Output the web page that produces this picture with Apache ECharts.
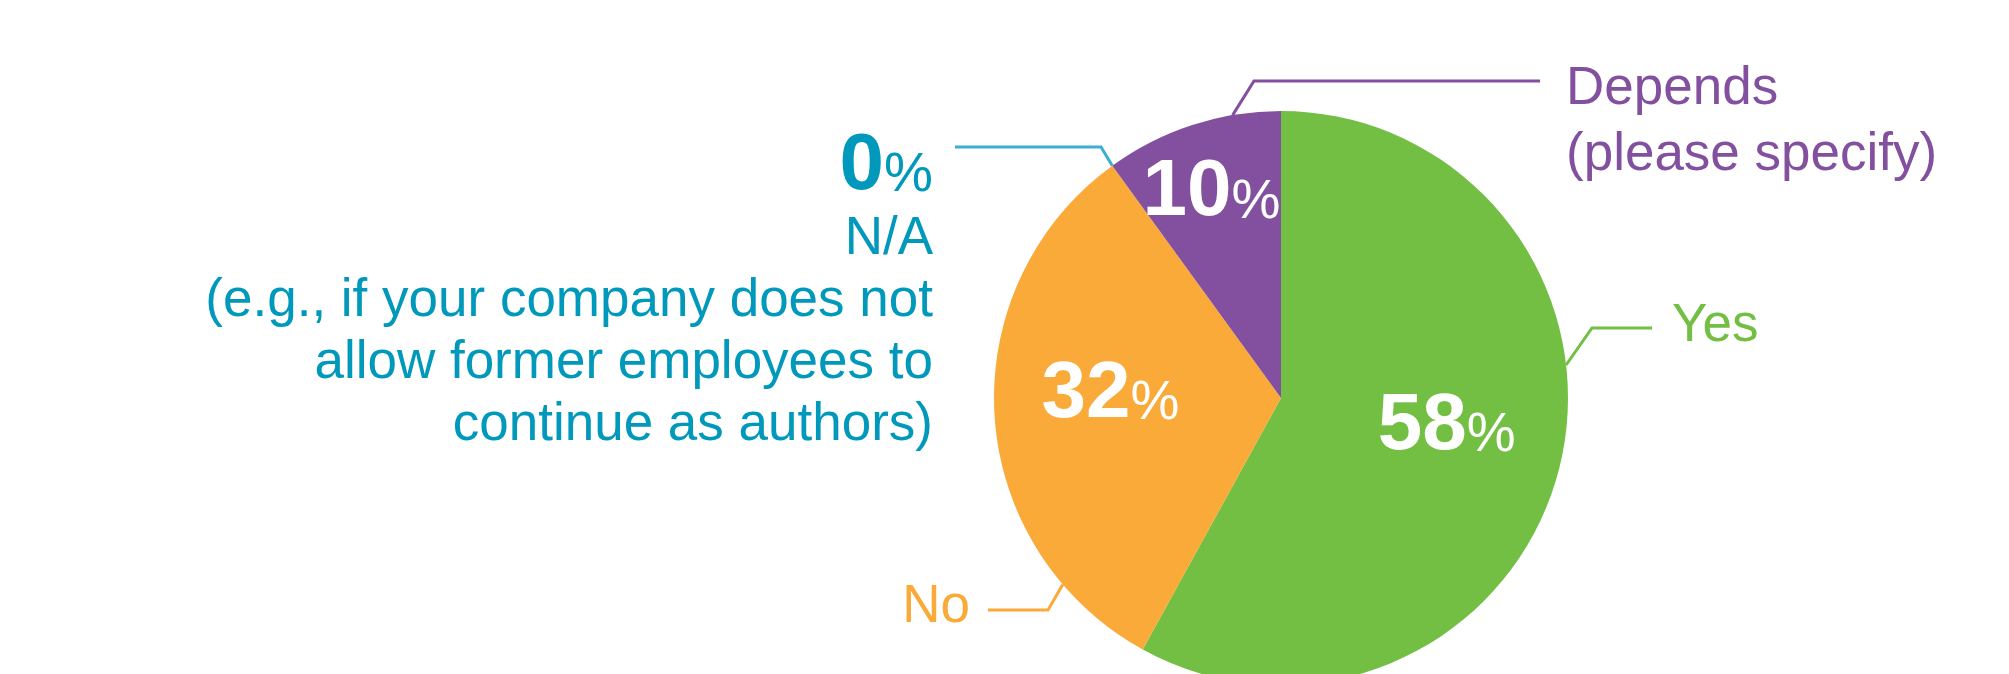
<!DOCTYPE html>
<html>
<head>
<meta charset="utf-8">
<script src="https://cdn.jsdelivr.net/npm/echarts@6/dist/echarts.min.js"></script>
<style>
html,body{margin:0;padding:0;background:#ffffff;}
#c{width:2009px;height:674px;}
</style>
</head>
<body>
<div id="c"></div>
<script>
// ---------------- data ----------------
const categories = ['Yes', 'No', 'N/A', 'Depends'];
const values = [58, 32, 0, 10];
const outerLabelLines = [
  ['Yes'],
  ['No'],
  ['N/A', '(e.g., if your company does not', 'allow former employees to', 'continue as authors)'],
  ['Depends', '(please specify)']
];
const showOuterPercent = [false, false, true, false];
const showInnerPercent = [true, true, false, true];

// ---------------- styles / layout ----------------
const COLORS = ['#72BF44', '#F9AA38', '#0098BB', '#8350A0'];
const LINE_COLORS = ['#72BF44', '#F9AA38', '#3BAFD0', '#8350A0'];
const FONT = '"Liberation Sans", Arial, Helvetica, sans-serif';
const CX = 1281, CY = 398, R = 287;
const LEADER = [
  { angle: 6.6,  elbow: [1592, 328], end: [1652, 328], label: { x: 1672, y: 326, align: 'left',  verticalAlign: 'middle', lh: 63 } },
  { angle: 220.5, elbow: [1048, 610], end: [988, 610],  label: { x: 970,  y: 607, align: 'right', verticalAlign: 'middle', lh: 63 } },
  { angle: null, elbow: [1101, 147], end: [955, 147],  label: { x: 933,  y: 125, align: 'right', verticalAlign: 'top', lh: 62 } },
  { angle: 99.7, elbow: [1254, 81],  end: [1540, 81],  label: { x: 1566, y: 56,  align: 'left',  verticalAlign: 'top', lh: 66 } }
];
const INNER_DY = [-14, -14, 0, 9];

const total = values.reduce((a, b) => a + b, 0);
function midAngle(i) {
  let before = 0;
  for (let k = 0; k < i; k++) before += values[k];
  return 90 - 360 * (before + values[i] / 2) / total;
}

const innerRich = {
  num: { fontSize: 80, fontWeight: 'bold', color: '#ffffff', fontFamily: FONT },
  pct: { fontSize: 55, color: '#ffffff', fontFamily: FONT, padding: [19, 0, 0, 0] }
};

function innerData(filter) {
  return categories.map((c, i) => ({
    name: c,
    value: values[i],
    itemStyle: { color: 'rgba(0,0,0,0)' },
    label: {
      show: showInnerPercent[i] && filter(i),
      formatter: '{num|' + values[i] + '}{pct|%}'
    }
  }));
}

const outerData = categories.map((c, i) => {
  const col = COLORS[i];
  const lines = outerLabelLines[i].map(t => '{txt|' + t + '}');
  if (showOuterPercent[i]) lines.unshift('{num|' + values[i] + '}{pct|%}');
  return {
    name: c,
    value: values[i],
    itemStyle: { color: 'rgba(0,0,0,0)' },
    label: {
      show: true,
      formatter: lines.join('\n'),
      rich: {
        num: { fontSize: 80, fontWeight: 'bold', color: col, fontFamily: FONT, lineHeight: 83 },
        pct: { fontSize: 55, color: col, fontFamily: FONT, lineHeight: 64, padding: [19, 0, 0, 0] },
        txt: { fontSize: 53, color: col, fontFamily: FONT, lineHeight: LEADER[i].label.lh }
      }
    },
    labelLine: { lineStyle: { color: LINE_COLORS[i], width: 3 } }
  };
});

const chart = echarts.init(document.getElementById('c'), null, { renderer: 'canvas' });
chart.setOption({
  animation: false,
  backgroundColor: '#ffffff',
  series: [
    {
      type: 'pie',
      center: [CX, CY],
      radius: [0, R],
      startAngle: 90,
      clockwise: true,
      silent: true,
      avoidLabelOverlap: false,
      emphasis: { disabled: true },
      itemStyle: { borderWidth: 0 },
      label: { show: false },
      labelLine: { show: false },
      data: categories.map((c, i) => ({ name: c, value: values[i], itemStyle: { color: COLORS[i] } }))
    },
    {
      type: 'pie',
      center: [CX, CY],
      radius: [49, R],
      startAngle: 90,
      silent: true,
      avoidLabelOverlap: false,
      emphasis: { disabled: true },
      itemStyle: { borderWidth: 0 },
      label: { position: 'inside', rich: innerRich },
      labelLine: { show: false },
      labelLayout: function (p) { return { dy: INNER_DY[p.dataIndex] }; },
      data: innerData(i => categories[i] !== 'Depends')
    },
    {
      type: 'pie',
      center: [CX, CY],
      radius: [157, R],
      startAngle: 90,
      silent: true,
      avoidLabelOverlap: false,
      emphasis: { disabled: true },
      itemStyle: { borderWidth: 0 },
      label: { position: 'inside', rich: innerRich },
      labelLine: { show: false },
      labelLayout: function (p) { return { dy: INNER_DY[p.dataIndex] }; },
      data: innerData(i => categories[i] === 'Depends')
    },
    {
      type: 'pie',
      center: [CX, CY],
      radius: [0, R],
      startAngle: 90,
      silent: true,
      avoidLabelOverlap: false,
      emphasis: { disabled: true },
      itemStyle: { borderWidth: 0 },
      label: { position: 'outside', alignTo: 'none' },
      labelLine: { show: true, length: 10, length2: 10, smooth: false },
      labelLayout: function (p) {
        const L = LEADER[p.dataIndex];
        const ang = (L.angle == null ? midAngle(p.dataIndex) : L.angle) * Math.PI / 180;
        const start = [CX + R * Math.cos(ang), CY - R * Math.sin(ang)];
        return {
          x: L.label.x,
          y: L.label.y,
          align: L.label.align,
          verticalAlign: L.label.verticalAlign,
          labelLinePoints: [start, L.elbow.slice(), L.end.slice()]
        };
      },
      data: outerData
    }
  ]
});
</script>
</body>
</html>
